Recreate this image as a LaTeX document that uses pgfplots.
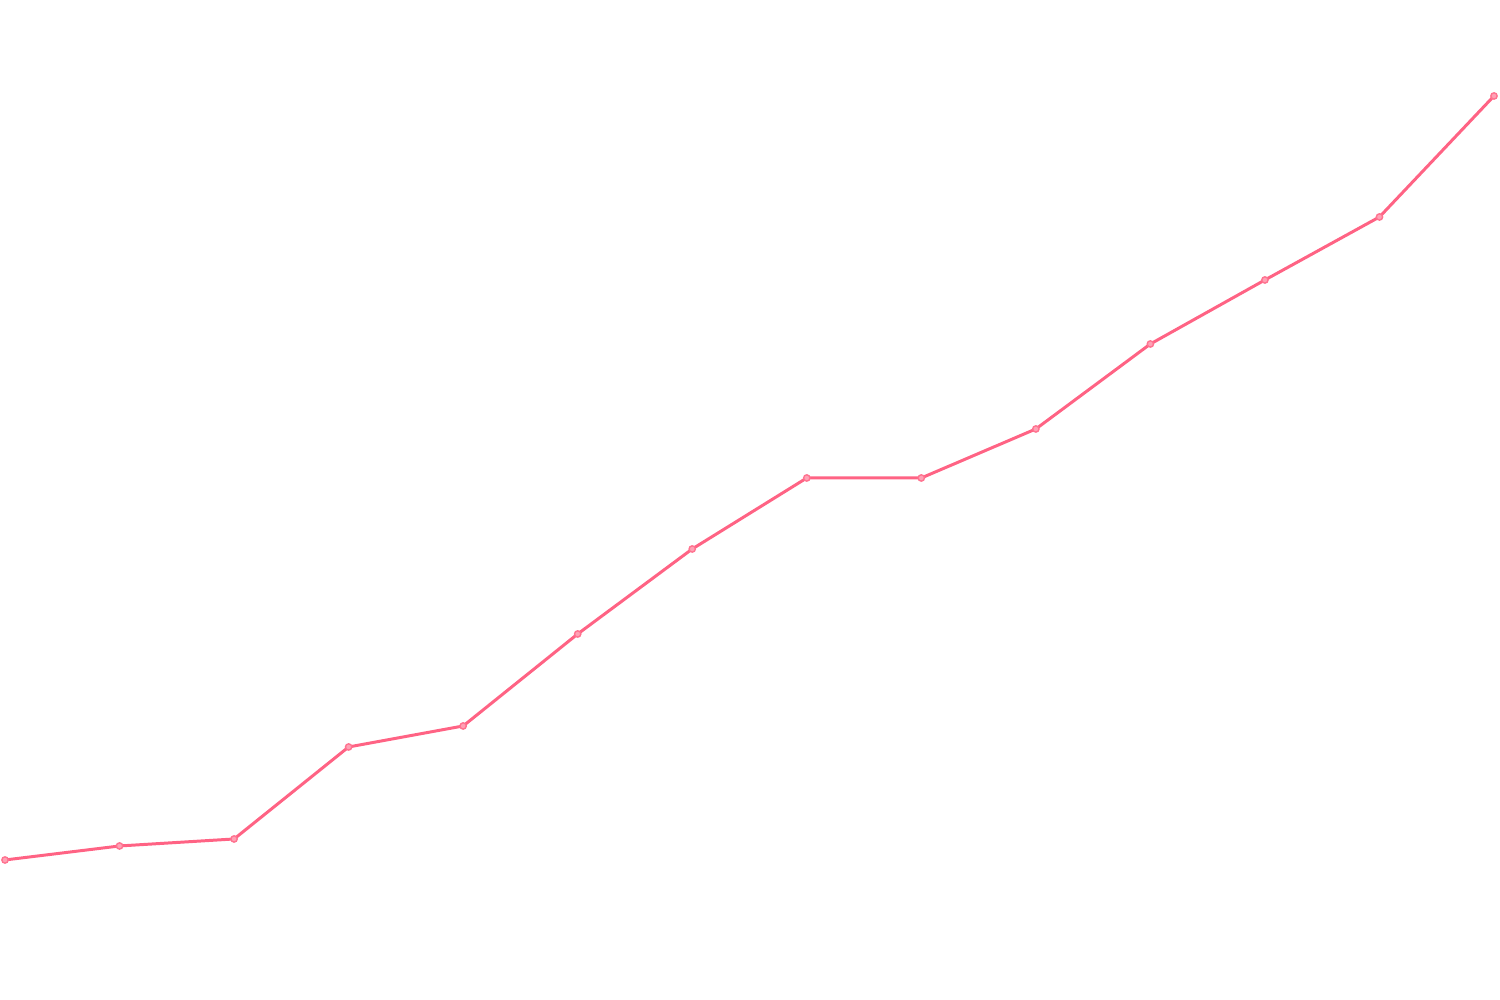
\documentclass[border=0pt]{standalone}
\usepackage{pgfplots}
\pgfplotsset{compat=1.18}
\definecolor{pinkline}{HTML}{FF6384}
\begin{document}
\begin{tikzpicture}
\useasboundingbox (0,0) rectangle (15cm,10cm);
\begin{axis}[
  at={(0,0)}, anchor=south west,
  scale only axis, width=15cm, height=10cm,
  hide axis,
  xmin=-0.04366, xmax=13.0524,
  ymin=0, ymax=1000,
  clip=false,
]
\addplot[color=pinkline, line width=0.85pt, mark=*, mark size=0.9pt,
  mark options={fill=pinkline!60, draw=pinkline!90, line width=0.4pt}]
  coordinates {
  (0,140) (1,154) (2,161) (3,253) (4,274) (5,366) (6,451)
  (7,522) (8,522) (9,571) (10,656) (11,720) (12,783) (13,904)
  };
\end{axis}
\end{tikzpicture}
\end{document}
